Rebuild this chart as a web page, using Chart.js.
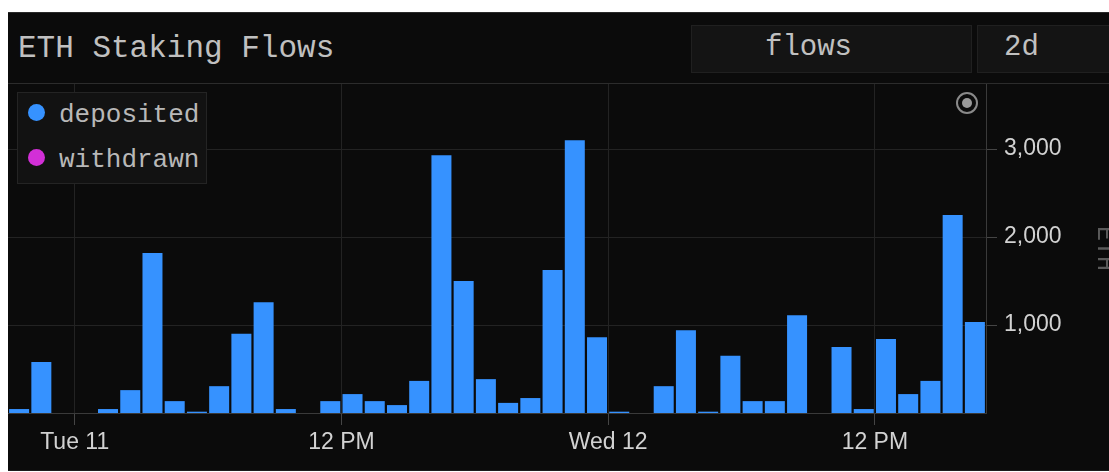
<!DOCTYPE html>
<html>
<head>
<meta charset="utf-8">
<title>ETH Staking Flows</title>
<script src="https://cdn.jsdelivr.net/npm/chart.js@4.4.1/dist/chart.umd.min.js"></script>
<style>
  html, body { margin: 0; padding: 0; background: #fff; overflow: hidden; }
  body { width: 1109px; height: 472px; position: relative; font-family: "Liberation Mono", "DejaVu Sans Mono", monospace; }
  #panel { position: absolute; left: 8px; top: 12px; width: 1120px; height: 457px; background: #0b0b0b; border-top: 1px solid #2a2a2a; border-bottom: 1px solid #1d1d1d; }
  #header-line { position: absolute; left: 8px; top: 83px; width: 1120px; height: 1px; background: #2c2c2c; }
  #title { position: absolute; left: 18px; top: 33px; font-size: 31px; line-height: 31px; color: #c0c0c0; white-space: nowrap; }
  .btn { position: absolute; top: 25px; height: 48px; box-sizing: border-box; background: #141414; border: 1px solid #202020; color: #c0c0c0; font-size: 29px; line-height: 44px; white-space: nowrap; }
  #btn-view { left: 691px; width: 281px; padding-left: 73px; }
  #btn-range { left: 977px; width: 160px; padding-left: 26px; }
  #chart-box { position: absolute; left: 8px; top: 84px; width: 1112px; height: 388px; }
  #legend { position: absolute; left: 17px; top: 92px; width: 190px; height: 92px; box-sizing: border-box; background: #121212; border: 1px solid #242424; z-index: 2; }
  .item { height: 45px; line-height: 45px; padding-left: 10px; font-size: 26px; color: #b8b8b8; white-space: nowrap; }
  .dot { display: inline-block; width: 17px; height: 17px; border-radius: 50%; vertical-align: middle; margin-right: 14px; position: relative; top: -3px; }
  #icon { position: absolute; left: 956px; top: 92px; width: 22px; height: 22px; box-sizing: border-box; border: 2px solid #8a8a8a; border-radius: 50%; z-index: 2; }
  #icon::after { content: ""; position: absolute; left: 4px; top: 4px; width: 10px; height: 10px; border-radius: 50%; background: #9a9a9a; }
</style>
</head>
<body>
<div id="panel"></div>
<div id="header-line"></div>
<div id="title">ETH Staking Flows</div>
<div class="btn" id="btn-view">flows</div>
<div class="btn" id="btn-range">2d</div>
<div id="chart-box"><canvas id="chart"></canvas></div>
<div id="legend"></div>
<div id="icon"></div>
<script>
// hour buckets, counted from Tue 11 00:00
const hours = [-3, -2, -1, 0, 1, 2, 3, 4, 5, 6, 7, 8, 9, 10, 11, 12, 13, 14, 15, 16, 17, 18,
  19, 20, 21, 22, 23, 24, 25, 26, 27, 28, 29, 30, 31, 32, 33, 34, 35, 36, 37, 38, 39, 40];
const deposited = [45, 580, 0, 0, 45, 260, 1820, 135, 15, 305, 900, 1260, 45, 0, 135, 215, 135, 90, 365, 2930, 1500, 385,
  115, 170, 1625, 3100, 860, 15, 0, 305, 940, 15, 650, 135, 135, 1110, 0, 750, 45, 840, 215, 365, 2250, 1035];
const withdrawn = [0, 0, 0, 0, 0, 0, 0, 0, 0, 0, 0, 0, 0, 0, 0, 0, 0, 0, 0, 0, 0, 0,
  0, 0, 0, 0, 0, 0, 0, 0, 0, 0, 0, 0, 0, 0, 0, 0, 0, 0, 0, 0, 0, 0];
const tickHours = [0, 12, 24, 36];
const tickLabels = ['Tue 11', '12 PM', 'Wed 12', '12 PM'];
const yTicks = [1000, 2000, 3000];
const seriesNames = ['deposited', 'withdrawn'];
const seriesColors = ['#3692ff', '#d22fd7'];

const tickFont = { family: '"Liberation Sans", Arial, Helvetica, sans-serif', size: 23 };
const toPoints = (vals) => hours.map((h, i) => ({ x: h + 0.5, y: vals[i] }));

// legend drawn as html, from the same names/colours
const legendEl = document.getElementById('legend');
seriesNames.forEach((name, i) => {
  const row = document.createElement('div');
  row.className = 'item';
  row.innerHTML = `<span class="dot" style="background:${seriesColors[i]}"></span>${name}`;
  legendEl.appendChild(row);
});

new Chart(document.getElementById('chart'), {
  type: 'bar',
  data: {
    datasets: [
      { label: seriesNames[0], data: toPoints(deposited), backgroundColor: seriesColors[0] },
      { label: seriesNames[1], data: toPoints(withdrawn), backgroundColor: seriesColors[1] }
    ]
  },
  options: {
    responsive: true,
    maintainAspectRatio: false,
    animation: false,
    layout: { padding: 0 },
    datasets: {
      bar: { grouped: false, barPercentage: 0.9, categoryPercentage: 1, borderWidth: 0 }
    },
    plugins: { legend: { display: false }, tooltip: { enabled: false } },
    scales: {
      x: {
        type: 'linear',
        min: -3,
        max: 41,
        offset: false,
        grid: { color: '#232323', tickColor: '#454545', tickLength: 12, offset: false },
        border: { color: '#3a3a3a' },
        afterBuildTicks: (s) => { s.ticks = tickHours.map(v => ({ value: v })); },
        ticks: {
          color: '#d2d2d2',
          font: tickFont,
          padding: 4,
          maxRotation: 0,
          autoSkip: false,
          callback: (v, i) => tickLabels[i]
        },
        afterFit: (s) => { s.height = 59; s.paddingLeft = 0; s.paddingRight = 0; }
      },
      y: {
        position: 'right',
        min: 0,
        max: 3740,
        afterBuildTicks: (s) => { s.ticks = yTicks.map(v => ({ value: v })); },
        grid: { color: '#232323', tickColor: '#454545', tickLength: 11 },
        border: { color: '#3a3a3a' },
        ticks: {
          color: '#d2d2d2',
          font: tickFont,
          padding: 7,
          callback: (v) => v.toLocaleString('en-US')
        },
        title: {
          display: true,
          text: 'ETH',
          color: '#5a5a5a',
          font: { family: '"Liberation Mono", monospace', size: 25 },
          padding: { top: 0, bottom: 0 }
        },
        afterFit: (s) => { s.width = 134; s.paddingTop = 0; s.paddingBottom = 0; }
      }
    }
  }
});
</script>
</body>
</html>
